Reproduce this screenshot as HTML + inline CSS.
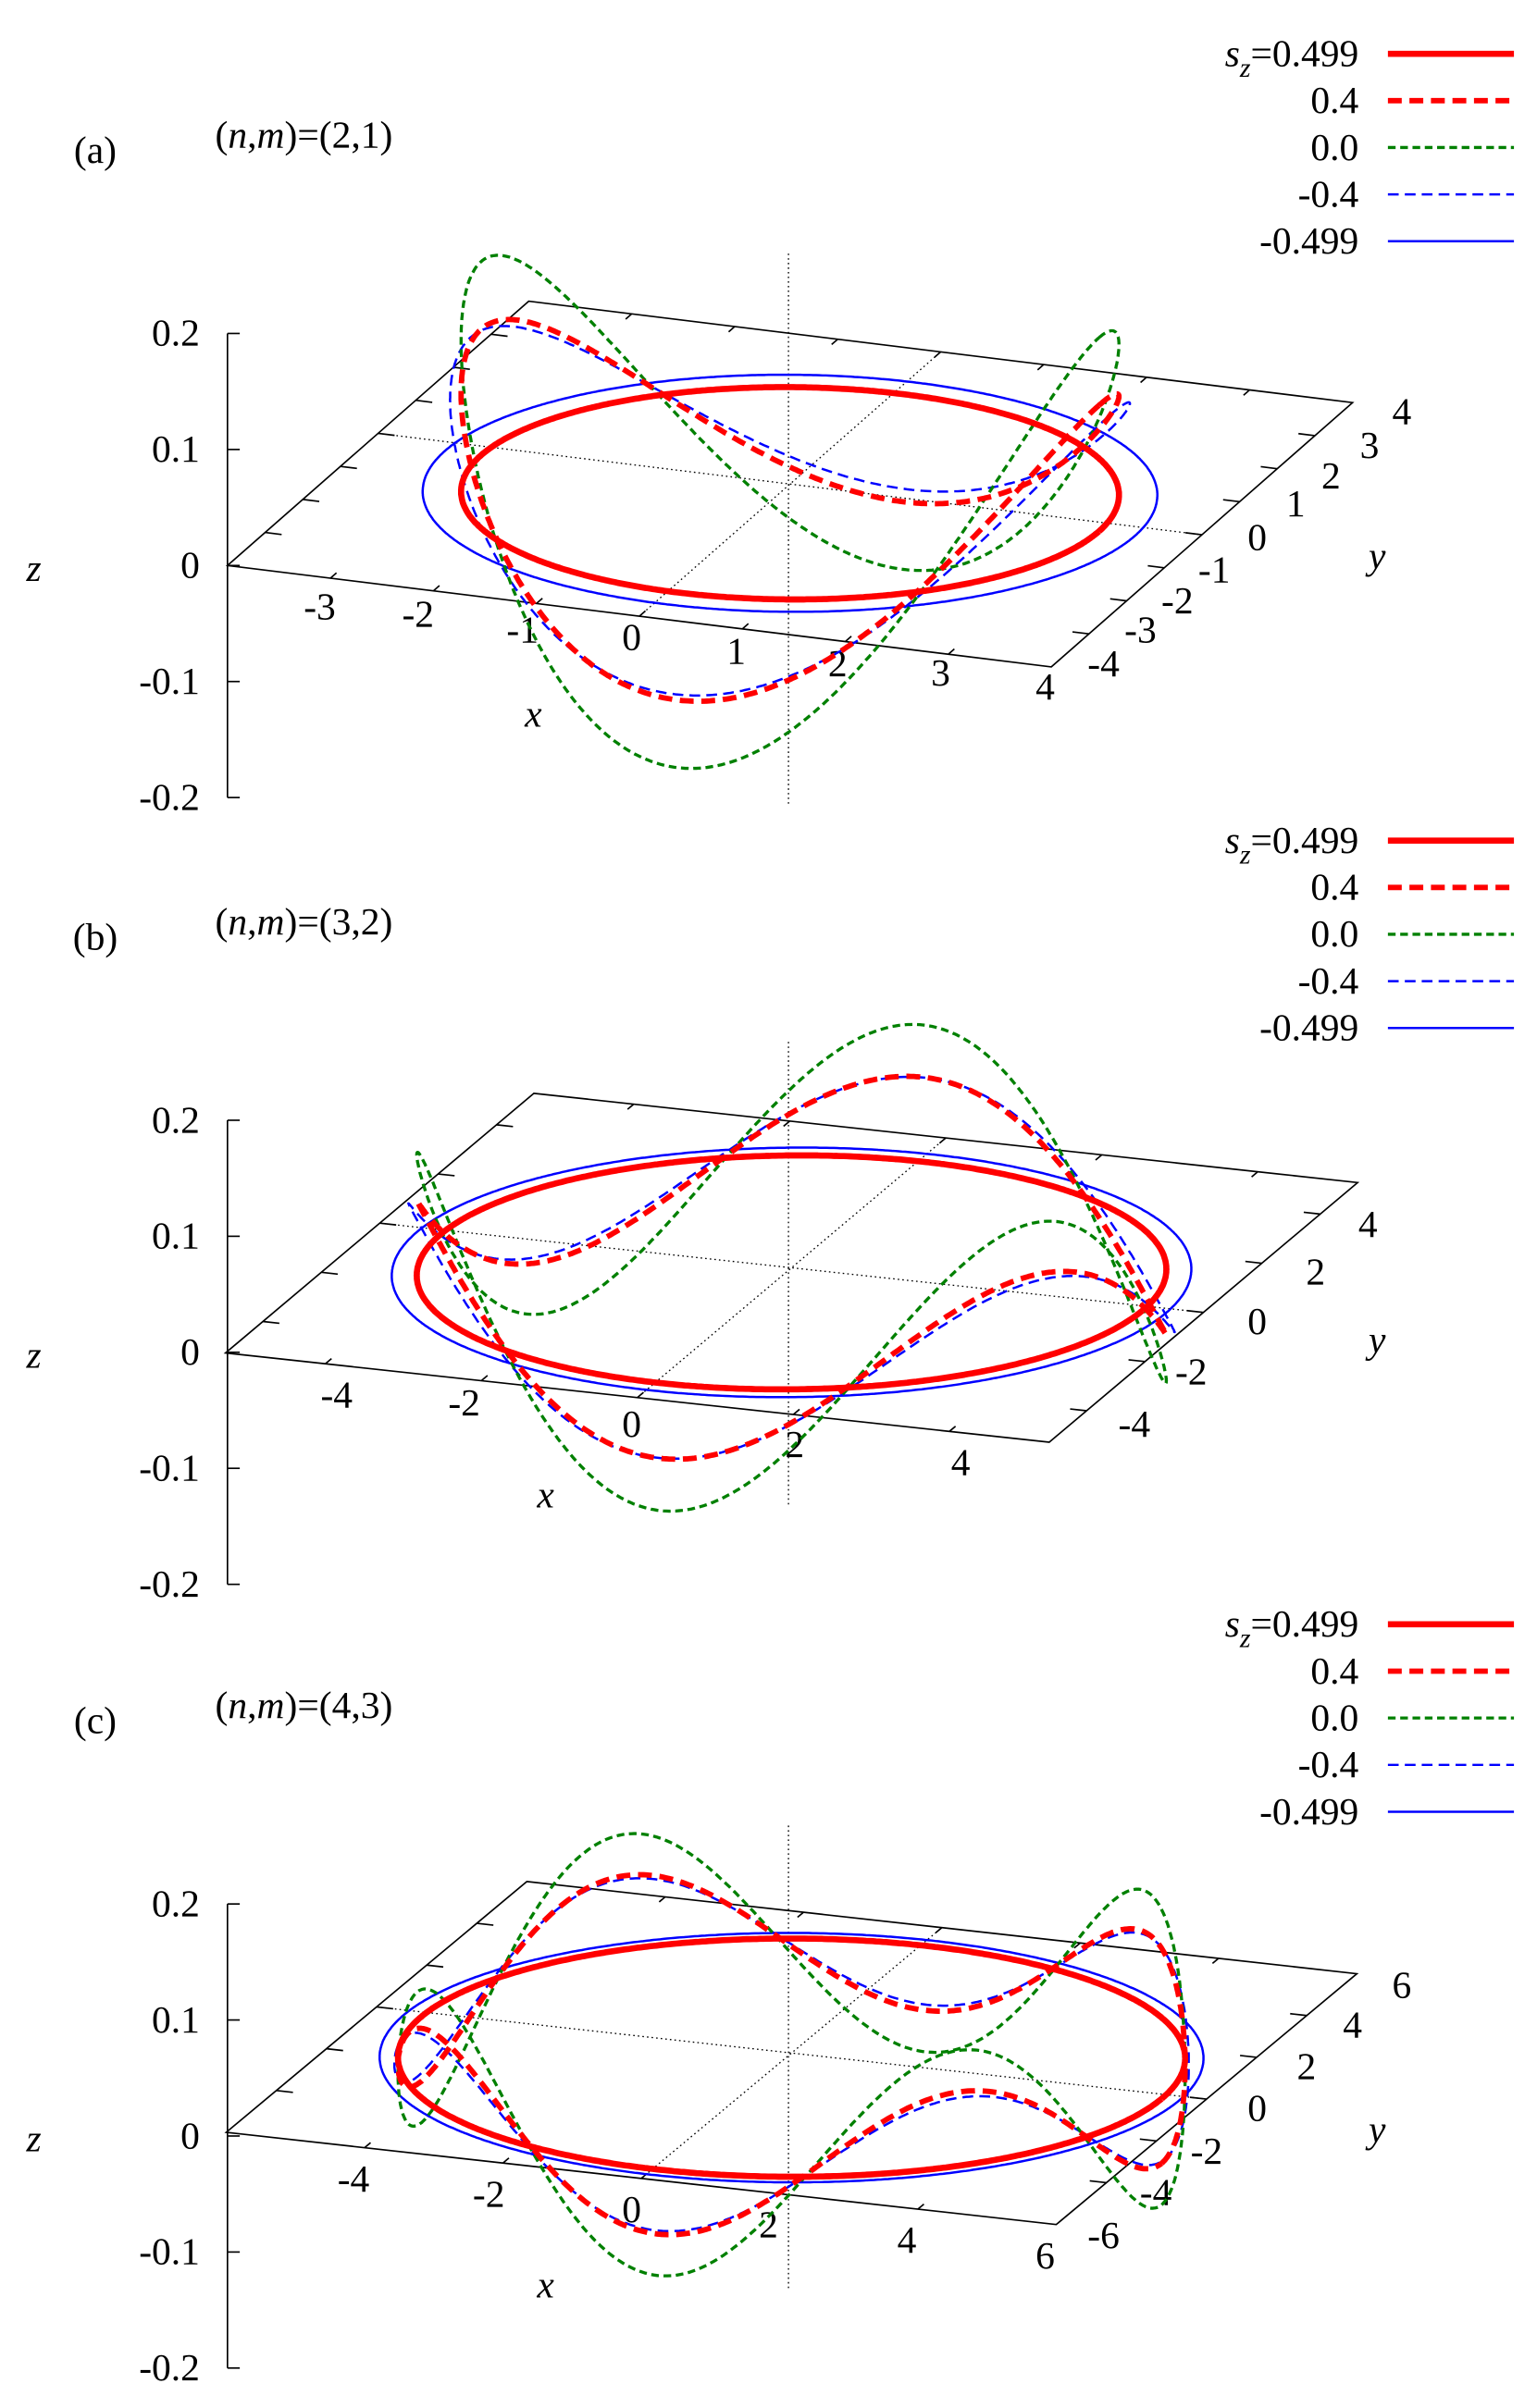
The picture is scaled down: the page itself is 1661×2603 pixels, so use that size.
<!DOCTYPE html>
<html><head><meta charset="utf-8"><style>
html,body{margin:0;padding:0;background:#fff;}
svg{display:block;}
text{font-family:"Liberation Serif","Times New Roman",serif;font-size:25px;fill:#000;}
</style></head><body>
<svg id="s" width="1661" height="2603" viewBox="0 0 1000 1567" preserveAspectRatio="none" xmlns="http://www.w3.org/2000/svg" font-family="Liberation Serif, serif">
<g id="g"></g>
</svg>
<script>
var NS="http://www.w3.org/2000/svg",G=document.getElementById('g');
function el(t,a,txt){var e=document.createElementNS(NS,t);for(var k in a)e.setAttribute(k,a[k]);if(txt!=null)e.textContent=txt;G.appendChild(e);return e;}
function line(x1,y1,x2,y2,st){return el('line',Object.assign({x1:x1,y1:y1,x2:x2,y2:y2,stroke:'#000','stroke-width':1},st||{}));}
function txt(x,y,s,anc,it){return el('text',{x:x,y:y,'text-anchor':anc||'middle','font-family':'Liberation Serif, serif','font-style':it?'italic':'normal'},s);}
var styles=[
 {c:'#0000ff',w:1.5,d:null},
 {c:'#0000ff',w:1.5,d:'7,4'},
 {c:'#008000',w:2,d:'5,3'},
 {c:'#ff0000',w:3.5,d:'9,5'},
 {c:'#ff0000',w:4,d:null}];
function panel(P){
 var oy=P.oy;
 line(148,217+oy,148,519+oy);
 var zl=['0.2','0.1','0','-0.1','-0.2'];
 for(var i=0;i<5;i++){var y=217+oy+i*75.5;line(148,y,156,y);txt(130,y+8,zl[i],'end');}
 txt(22,378+oy,'z','middle',true);
 var c=P.c,xu=P.xu,yu=P.yu,R=P.R;
 function pr(x,y,z){return [c[0]+x*xu[0]+y*yu[0], c[1]+x*xu[1]+y*yu[1]-z];}
 var A=pr(-R,-R,0),B=pr(R,-R,0),C=pr(R,R,0),D=pr(-R,R,0);
 el('polygon',{points:[A,B,C,D].map(p=>p.join(',')).join(' '),fill:'none',stroke:'#000','stroke-width':1});
 var p1=pr(-R,0,0),p2=pr(R,0,0),p3=pr(0,-R,0),p4=pr(0,R,0);
 line(p1[0],p1[1],p2[0],p2[1],{'stroke-dasharray':'1,2','stroke-width':0.8});
 line(p3[0],p3[1],p4[0],p4[1],{'stroke-dasharray':'1,2','stroke-width':0.8});
 line(513,P.v[0],513,P.v[1],{'stroke-dasharray':'1,2','stroke-width':0.8});
 P.xt.forEach(function(t){var a=pr(t,-R,0),b=pr(t,-R+R*0.04,0);line(a[0],a[1],b[0],b[1]);var a2=pr(t,R,0),b2=pr(t,R-R*0.04,0);line(a2[0],a2[1],b2[0],b2[1]);});
 P.yt.forEach(function(t){var a=pr(R,t,0),b=pr(R-R*0.04,t,0);line(a[0],a[1],b[0],b[1]);var a2=pr(-R,t,0),b2=pr(-R+R*0.04,t,0);line(a2[0],a2[1],b2[0],b2[1]);});
 P.xl.forEach(function(l){txt(l[0],l[1]+oy,l[2]);});
 P.yl.forEach(function(l){txt(l[0],l[1]+oy,l[2]);});
 txt(P.xlab[0],P.xlab[1]+oy,'x','middle',true);
 txt(P.ylab[0],P.ylab[1]+oy,'y','middle',true);
 txt(62,106+oy,'('+P.tag+')');
 var t=el('text',{x:140,y:96+oy,'text-anchor':'start','font-family':'Liberation Serif, serif'});
 t.innerHTML='(<tspan font-style="italic">n</tspan>,<tspan font-style="italic">m</tspan>)='+P.nm;
 P.curves.forEach(function(cv,i){
  var s=styles[i],pts=[];
  for(var k=0;k<=720;k++){var f=k/720*2*Math.PI;var z=cv.A*P.zf(f);var p=pr(cv.r*cv.sx*Math.cos(f),cv.r*Math.sin(f),z+(cv.z0||0));pts.push(p[0].toFixed(1)+','+p[1].toFixed(1));}
  var a={points:pts.join(' '),fill:'none',stroke:s.c,'stroke-width':s.w,'stroke-linejoin':'round'};
  if(s.d)a['stroke-dasharray']=s.d;
  el('polyline',a);
 });
 var lab=['0.499','0.4','0.0','-0.4','-0.499'],ord=[4,3,2,1,0];
 for(var j=0;j<5;j++){var y=35+oy+j*30.5;var s=styles[ord[j]];
  if(j==0){var tt=el('text',{x:884,y:y+8,'text-anchor':'end','font-family':'Liberation Serif, serif'});tt.innerHTML='<tspan font-style="italic">s</tspan><tspan font-style="italic" font-size="18" dy="7">z</tspan><tspan dy="-7">=0.499</tspan>';}
  else txt(884,y+8,lab[j],'end');
  var a={x1:903,y1:y,x2:985,y2:y,stroke:s.c,'stroke-width':s.w};if(s.d)a['stroke-dasharray']=s.d;el('line',a);}
}
panel({oy:0,c:[514,315],xu:[67,8.25],yu:[24.5,-21.5],R:4,v:[165,525],tag:'a',nm:'(2,1)',
 xt:[-3,-2,-1,0,1,2,3],yt:[-3,-2,-1,0,1,2,3],
 xl:[[208,403,'-3'],[272,408,'-2'],[340,418,'-1'],[411,423,'0'],[479,432,'1'],[545,440,'2'],[612,446,'3'],[680,455,'4']],
 yl:[[718,440,'-4'],[742,418,'-3'],[766,399,'-2'],[790,379,'-1'],[818,358,'0'],[843,336,'1'],[866,318,'2'],[891,298,'3'],[912,276,'4']],
 xlab:[347,473],ylab:[896,370],zf:function(f){return Math.cos(2*f);},
 curves:[{r:3.35,sx:1,A:0,z0:-6},{r:3.1,sx:1,A:70},{r:3.0,sx:1,A:120},{r:3.0,sx:1,A:76},{r:3.0,sx:1,A:0,z0:-6}]});
panel({oy:512,c:[515,825],xu:[50.75,5.5],yu:[19,-16],R:5.28,v:[678,980],tag:'b',nm:'(3,2)',
 xt:[-4,-2,0,2,4],yt:[-4,-2,0,2,4],
 xl:[[219,404,'-4'],[302,409,'-2'],[411,423,'0'],[517,436,'2'],[625,448,'4']],
 yl:[[738,423,'-4'],[775,389,'-2'],[818,356,'0'],[856,324,'2'],[890,293,'4']],
 xlab:[355,469],ylab:[896,368],zf:function(f){return -Math.sin(3*f);},
 curves:[{r:4.8,sx:1,A:0,z0:-3},{r:4.6,sx:1,A:50},{r:4.5,sx:1,A:86},{r:4.5,sx:1,A:52},{r:4.5,sx:1,A:0,z0:-3}]});
panel({oy:1022,c:[515,1336],xu:[45,5],yu:[16.3,-13.6],R:6,v:[1188,1490],tag:'c',nm:'(4,3)',
 xt:[-4,-2,0,2,4],yt:[-4,-2,0,2,4],
 xl:[[230,404,'-4'],[318,414,'-2'],[411,424,'0'],[500,434,'2'],[590,444,'4'],[680,454,'6']],
 yl:[[718,441,'-6'],[752,413,'-4'],[785,386,'-2'],[818,358,'0'],[850,331,'2'],[880,304,'4'],[912,278,'6']],
 xlab:[355,473],ylab:[896,372],zf:function(f){return -Math.cos(4*f);},
 curves:[{r:5.6,sx:1,A:0,z0:-3},{r:5.4,sx:1,A:42},{r:5.35,sx:1,A:72},{r:5.35,sx:1,A:45},{r:5.35,sx:1,A:0,z0:-3}]});
</script>
</body></html>
